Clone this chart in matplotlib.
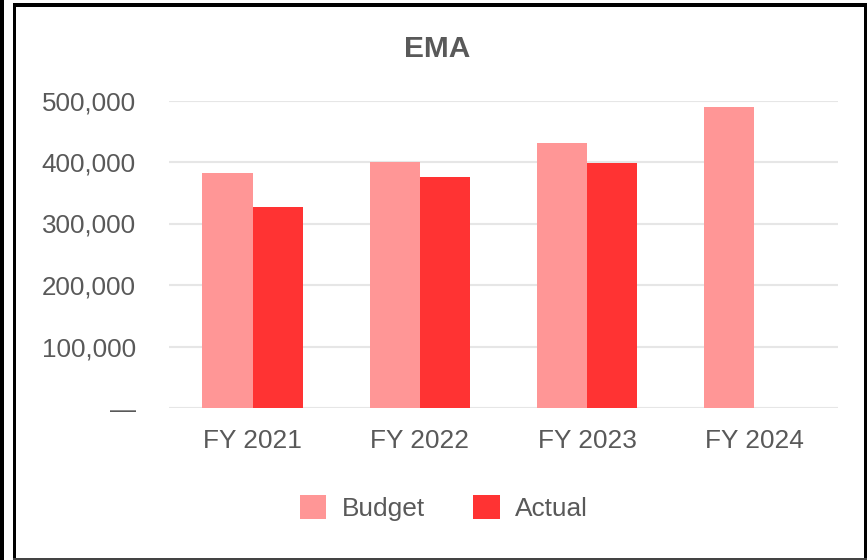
import matplotlib
matplotlib.use('Agg')
import matplotlib.pyplot as plt
from matplotlib.patches import Rectangle
from matplotlib.ticker import FuncFormatter
import numpy as np

categories = ['FY 2021', 'FY 2022', 'FY 2023', 'FY 2024']
budget = [382000, 400000, 431000, 489000]
actual = [327000, 376000, 399000, np.nan]
series_names = ['Budget', 'Actual']
y_ticks = [0, 100000, 200000, 300000, 400000, 500000]

BUDGET_COLOR = '#FF9696'
ACTUAL_COLOR = '#FF3333'
TEXT_COLOR = '#595959'
GRID_COLOR = '#E6E6E6'

plt.rcParams['font.family'] = ['Liberation Sans', 'DejaVu Sans']

W, H = 867, 560
fig = plt.figure(figsize=(W / 100, H / 100), dpi=100)
fig.patch.set_facecolor('white')


def px_box(x0, y0, x1, y1):
    # pixel box (top-left origin) -> figure fraction rectangle
    return (x0 / W, 1 - y1 / H), (x1 - x0) / W, (y1 - y0) / H


# frame around the card
for (x0, y0, x1, y1), col in [((0, 0, 4, 560), 'black'),
                              ((12.7, 3.3, 16, 560), 'black'),
                              ((12.7, 3.3, 867, 7.3), 'black'),
                              ((863.5, 3.3, 867, 560), 'black'),
                              ((12.7, 558, 867, 560), '#444444')]:
    xy, w, h = px_box(x0, y0, x1, y1)
    fig.patches.append(Rectangle(xy, w, h, transform=fig.transFigure,
                                 facecolor=col, edgecolor='none', zorder=5))

ax = fig.add_axes([169 / W, 1 - 408 / H, (838 - 169) / W, (408 - 100.5) / H])

x = np.arange(len(categories))
width = 0.3
ax.bar(x - width / 2, budget, width, color=BUDGET_COLOR, label=series_names[0], zorder=3)
ax.bar(x + width / 2, actual, width, color=ACTUAL_COLOR, label=series_names[1], zorder=3)

ax.set_xlim(-0.5, len(categories) - 0.5)
ax.set_ylim(0, 500000)
ax.set_yticks(y_ticks)
ax.yaxis.set_major_formatter(FuncFormatter(lambda v, p: '\u2014' if v == 0 else f'{int(v):,}'))
ax.set_xticks(x)
ax.set_xticklabels(categories)

ax.grid(axis='y', color=GRID_COLOR, linewidth=1.5, zorder=0)
ax.set_axisbelow(True)
for s in ax.spines.values():
    s.set_visible(False)
ax.tick_params(axis='y', length=0, pad=24, labelsize=18.7, labelcolor=TEXT_COLOR)
ax.tick_params(axis='x', length=0, pad=15, labelsize=18.9, labelcolor=TEXT_COLOR)

fig.text(437 / W, 1 - 56.7 / H, 'EMA', ha='center', va='baseline',
         fontsize=21.5, fontweight='bold', color=TEXT_COLOR)

leg = fig.legend(loc='center', bbox_to_anchor=(444 / W, 1 - 508 / H), ncol=2,
                 frameon=False, fontsize=18.9, handlelength=1.0, handleheight=1.0,
                 handletextpad=0.58, columnspacing=1.85)
for t in leg.get_texts():
    t.set_color(TEXT_COLOR)

fig.savefig('out.png', dpi=100)
